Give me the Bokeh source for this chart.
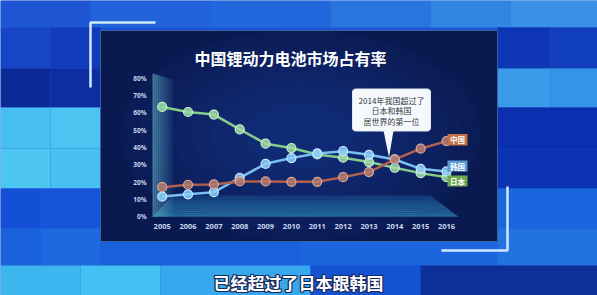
import numpy as np
from bokeh.plotting import figure
from bokeh.models import Range1d
from bokeh.core.properties import value
from bokeh.embed import file_html
from bokeh.resources import INLINE

# ---- data -------------------------------------------------------------
years = [2005, 2006, 2007, 2008, 2009, 2010, 2011, 2012, 2013, 2014, 2015, 2016]
china = [17.1, 18.5, 18.7, 20.4, 20.4, 20.2, 20.2, 22.9, 25.8, 33.1, 39.3, 43.7]
korea = [11.7, 13.0, 14.2, 22.5, 30.6, 33.9, 36.6, 37.9, 35.8, 33.1, 27.7, 26.2]
japan = [63.4, 60.5, 59.0, 50.5, 42.2, 39.7, 36.0, 34.1, 31.6, 28.3, 25.2, 22.9]
y_ticks = [0, 10, 20, 30, 40, 50, 60, 70, 80]
y_tick_labels = [f"{v}%" for v in y_ticks]
x_tick_labels = [str(y) for y in years]
series_names = ["中国", "韩国", "日本"]
title_text = "中国锂动力电池市场占有率"
note_lines = ["2014年我国超过了", "日本和韩国", "居世界的第一位"]
caption = "已经超过了日本跟韩国"

# ---- canvas / scale set-up -------------------------------------------
W, H = 597, 295
X_LEFT_PX, X_RIGHT_PX = 161.7, 446.0     # pixel columns of first / last year
Y_ZERO_PX, Y_TOP_PX = 216.3, 77.7        # pixel rows of 0% and 80%
ppx = (X_RIGHT_PX - X_LEFT_PX) / (years[-1] - years[0])
ppy = (Y_ZERO_PX - Y_TOP_PX) / 80.0
x0 = years[0] - X_LEFT_PX / ppx
y0 = (Y_ZERO_PX - H) / ppy


def dx(px):
    return x0 + np.asarray(px, dtype=float) / ppx


def dy(py):
    return (Y_ZERO_PX - np.asarray(py, dtype=float)) / ppy


p = figure(width=W, height=H, output_backend="svg", toolbar_location=None,
           x_range=Range1d(x0, x0 + W / ppx), y_range=Range1d(y0, y0 + H / ppy),
           min_border=0, outline_line_color=None)
p.axis.visible = False
p.grid.visible = False
p.background_fill_color = "#1a56d4"
p.border_fill_color = "#1a56d4"


def box(l, r, t, b, color, alpha=1.0):
    p.quad(left=dx(l), right=dx(r), top=dy(t), bottom=dy(b),
           fill_color=color, fill_alpha=alpha, line_color=None)


# ---- mosaic backdrop ---------------------------------------------------
tiles = [
    (0, 27, [(0, 90, "#1d55d2"), (90, 210, "#2262da"), (210, 330, "#2268dc"),
             (330, 430, "#2a74de"), (430, 510, "#3385e2"), (510, 597, "#3a90e6")]),
    (27, 68, [(0, 50, "#1646c6"), (50, 100, "#103cbc"), (497, 550, "#0e36b4"), (550, 597, "#1240bc")]),
    (68, 107, [(0, 50, "#0b2a98"), (50, 100, "#0d2ea0"), (497, 550, "#3a9ce8"), (550, 597, "#3496e6")]),
    (107, 148, [(0, 50, "#46bff0"), (50, 100, "#4cc4f2"), (497, 597, "#0b2fae")]),
    (148, 188, [(0, 50, "#4ec6f2"), (50, 100, "#48c0f0"), (497, 597, "#0c33b4")]),
    (188, 228, [(0, 40, "#1450d6"), (40, 100, "#1654da"), (497, 597, "#1a66de")]),
    (228, 265, [(0, 40, "#1b62dc"), (40, 100, "#1d6ae0"), (100, 300, "#1a60da"),
                (300, 497, "#1b66dc"), (497, 597, "#2272e2")]),
    (265, 295, [(0, 80, "#3db6f0"), (80, 160, "#45c0f2"), (160, 310, "#38a8ee"),
                (310, 420, "#1452d2"), (420, 597, "#0c2f9a")]),
]
for top, bot, cells in tiles:
    for l, r, c in cells:
        box(l, r, top, bot, c)

# corner brackets
p.line(dx([155, 90, 90]), dy([22, 22, 87]), line_color="#cfeaff", line_width=2.5)
p.line(dx([441, 507, 507]), dy([250, 250, 186]), line_color="#cfeaff", line_width=2.5)

# ---- chart panel -------------------------------------------------------
box(100, 497, 30, 241, "#0a1a50")
# soft radial glow built from stacked translucent ellipses
for k in range(8):
    s = 1.0 - k * 0.1
    p.ellipse(x=dx([300]), y=dy([135]), width=360 * s / ppx, height=210 * s / ppy,
              fill_color="#1c48a8", fill_alpha=0.07, line_color=None)
p.quad(left=dx(100), right=dx(497), top=dy(30), bottom=dy(241),
       fill_color=None, line_color="#3c5f9e", line_width=1)

# floor of the pseudo-3D stage
n_bands = 10
for i in range(n_bands):
    t0, t1 = i / n_bands, (i + 1) / n_bands
    ya, yb = 195 + t0 * 21.3, 195 + t1 * 21.3
    la, lb = 172 - t0 * 20, 172 - t1 * 20
    ra, rb = 430 + t0 * 28, 430 + t1 * 28
    c = tuple(int(a + (b - a) * t0) for a, b in zip((22, 66, 130), (44, 128, 176)))
    p.patch(dx([la, ra, rb, lb]), dy([ya, ya, yb, yb]),
            fill_color="#%02x%02x%02x" % c, fill_alpha=0.85, line_color=None)

# left wall fading to the right
for i in range(10):
    xa, xb = 152 + 2 * i, 154 + 2 * i
    p.patch(dx([xa, xb, xb, xa]),
            dy([73 + (xa - 152) * 0.3, 73 + (xb - 152) * 0.3, 216.3, 216.3]),
            fill_color="#6cc4d4", fill_alpha=0.55 - 0.05 * i, line_color=None)

# ---- axis labels -------------------------------------------------------
tick_font = value("Open Sans")
p.text(x=[dx(146)] * len(y_ticks), y=y_ticks, text=y_tick_labels,
       text_font=tick_font, text_font_style="bold", text_font_size="6.5px",
       text_color="#c9d7f0", text_align="right", text_baseline="middle")
p.text(x=years, y=[dy(225.5)] * len(years), text=x_tick_labels,
       text_font=tick_font, text_font_style="bold", text_font_size="7.5px",
       text_color="#c9d7f0", text_align="center", text_baseline="middle")

p.text(x=[dx(290)], y=[dy(57)], text=[title_text], text_font=value("Noto Sans CJK SC"),
       text_font_style="bold", text_font_size="16px", text_color="#ffffff",
       text_align="center", text_baseline="middle")

# ---- series ------------------------------------------------------------
styles = [
    (japan, "#86cc8c", "#9edaa4", "#c8f0cc"),
    (korea, "#78c0f2", "#8ccff8", "#c6e8ff"),
    (china, "#b0604c", "#b47a70", "#dca898"),
]
for vals, lc, fc, oc in styles:
    p.line(years, vals, line_color=lc, line_width=2.5)
    p.scatter(years, vals, size=9, fill_color=fc, fill_alpha=0.85,
              line_color=oc, line_width=1.2)

# series tags at the right end
tag_colors = ["#c46f48", "#5b9bd2", "#6ba84c"]
tag_rows = [(133.5, 145), (160, 171), (175, 186)]
for name, col, (t, b) in zip(series_names, tag_colors, tag_rows):
    box(447, 467, t, b, col)
    p.text(x=[dx(457)], y=[dy((t + b) / 2)], text=[name],
           text_font=value("Noto Sans CJK SC"), text_font_style="bold",
           text_font_size="7.5px", text_color="#ffffff",
           text_align="center", text_baseline="middle")

# ---- callout -----------------------------------------------------------
def rounded_rect(l, r, t, b, rad, n=6):
    xs, ys = [], []
    corners = [(r - rad, t + rad, -90, 0), (r - rad, b - rad, 0, 90),
               (l + rad, b - rad, 90, 180), (l + rad, t + rad, 180, 270)]
    for cx, cy, a0, a1 in corners:
        for a in np.linspace(np.radians(a0), np.radians(a1), n):
            xs.append(cx + rad * np.cos(a))
            ys.append(cy + rad * np.sin(a))
    return xs, ys


bx, by = rounded_rect(352, 430, 88.5, 130.5, 3)
p.patch(dx(bx), dy(by), fill_color="#f6f9fc", line_color="#dfe8f2", line_width=1)
p.patch(dx([383, 393, 388.5]), dy([130, 130, 157]), fill_color="#f6f9fc", line_color=None)
p.text(x=[dx(391)] * 3, y=dy([100, 110.3, 120.6]), text=note_lines,
       text_font=value("Noto Sans CJK SC"), text_font_size="8px",
       text_color="#333a44", text_align="center", text_baseline="middle")

# ---- caption with dark outline -----------------------------------------
cap_x, cap_y = 298, 281.5
for ox, oy in [(-1, 0), (1, 0), (0, -1), (0, 1), (-1, -1), (1, 1), (-1, 1), (1, -1)]:
    p.text(x=[dx(cap_x + ox)], y=[dy(cap_y + oy)], text=[caption],
           text_font=value("Noto Sans CJK SC"), text_font_style="bold",
           text_font_size="17px", text_color="#1a2a5a",
           text_align="center", text_baseline="middle")
p.text(x=[dx(cap_x)], y=[dy(cap_y)], text=[caption],
       text_font=value("Noto Sans CJK SC"), text_font_style="bold",
       text_font_size="17px", text_color="#ffffff",
       text_align="center", text_baseline="middle")

open("out.html", "w").write(file_html(p, INLINE))
